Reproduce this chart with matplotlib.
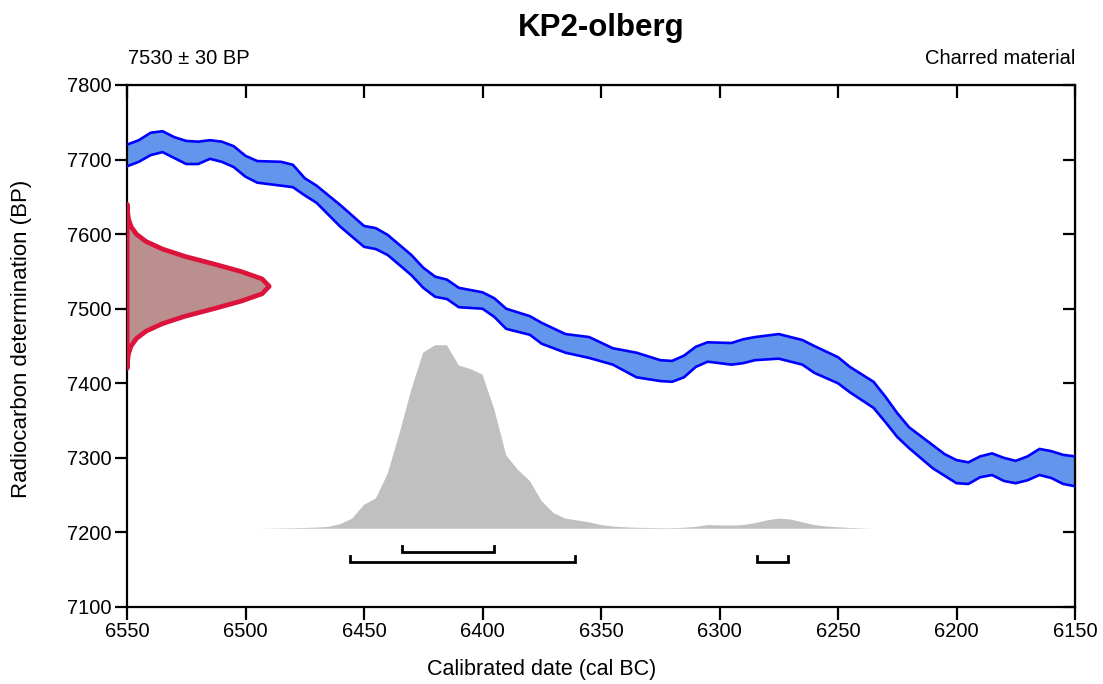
#
# radiocarbon calibration plot: KP2-olberg
#
import numpy as np
import matplotlib
matplotlib.use('Agg')
import matplotlib.pyplot as plt

plt.rcParams['font.family'] = ['Liberation Sans', 'DejaVu Sans']

TITLE = 'KP2-olberg'
DATE_LABEL = '7530 \u00b1 30 BP'
MATERIAL = 'Charred material'
X_LABEL = 'Calibrated date (cal BC)'
Y_LABEL = 'Radiocarbon determination (BP)'

# calibration curve, cal BC and 1 sigma band edges (BP)
cal_years = [6550, 6545, 6540, 6535, 6530, 6525, 6520, 6515, 6510, 6505,
             6500, 6495, 6485, 6480, 6475, 6470, 6460, 6450, 6445, 6440,
             6430, 6425, 6420, 6415, 6410, 6400, 6395, 6390, 6380, 6375,
             6365, 6355, 6345, 6335, 6325, 6320, 6315, 6310, 6305, 6295,
             6290, 6285, 6275, 6265, 6260, 6250, 6245, 6235, 6230, 6225,
             6220, 6210, 6205, 6200, 6195, 6190, 6185, 6180, 6175, 6170,
             6165, 6160, 6155, 6150]
cal_upper = [7720, 7726, 7736, 7738, 7730, 7725, 7724, 7726, 7724, 7718,
             7705, 7698, 7697, 7693, 7675, 7665, 7639, 7611, 7608, 7599,
             7572, 7555, 7543, 7539, 7528, 7522, 7514, 7500, 7490, 7481,
             7466, 7462, 7447, 7441, 7431, 7430, 7437, 7449, 7455, 7454,
             7459, 7462, 7466, 7458, 7450, 7435, 7422, 7402, 7382, 7360,
             7341, 7317, 7305, 7297, 7294, 7302, 7306, 7300, 7296, 7302,
             7312, 7309, 7304, 7302]
cal_lower = [7691, 7697, 7706, 7710, 7702, 7694, 7694, 7701, 7697, 7690,
             7677, 7669, 7665, 7663, 7652, 7642, 7610, 7583, 7580, 7572,
             7545, 7528, 7516, 7513, 7502, 7500, 7489, 7473, 7465, 7453,
             7441, 7434, 7425, 7408, 7403, 7402, 7408, 7422, 7429, 7425,
             7427, 7431, 7433, 7425, 7414, 7400, 7388, 7367, 7348, 7328,
             7313, 7286, 7276, 7266, 7265, 7274, 7277, 7269, 7266, 7270,
             7277, 7273, 7265, 7262]

# measured date (relative likelihood at BP values)
date_bp = [7420, 7430, 7440, 7450, 7460, 7470, 7480, 7490, 7500, 7510, 7520,
           7530, 7540, 7550, 7560, 7570, 7580, 7590, 7600, 7610, 7620, 7630, 7640]
date_prob = [0.001, 0.004, 0.011, 0.029, 0.066, 0.135, 0.25, 0.41, 0.61, 0.80, 0.95,
             1.0, 0.95, 0.80, 0.61, 0.41, 0.25, 0.135, 0.066, 0.029, 0.011, 0.004, 0.001]

# calibrated distribution (relative probability)
post_years = [6495, 6490, 6485, 6480, 6475, 6470, 6465, 6460, 6455, 6450,
              6445, 6440, 6435, 6430, 6425, 6420, 6415, 6410, 6405, 6400,
              6395, 6390, 6385, 6380, 6375, 6370, 6365, 6360, 6355, 6350,
              6345, 6340, 6335, 6330, 6325, 6320, 6315, 6310, 6305, 6300,
              6295, 6290, 6285, 6280, 6275, 6270, 6265, 6260, 6255, 6250,
              6245, 6240, 6235]
post_prob = [0.0, 0.001, 0.002, 0.003, 0.004, 0.006, 0.01, 0.025, 0.055, 0.13,
             0.165, 0.30, 0.52, 0.76, 0.96, 1.0, 1.0, 0.89, 0.87, 0.84,
             0.65, 0.40, 0.32, 0.26, 0.15, 0.085, 0.055, 0.045, 0.035, 0.02,
             0.012, 0.008, 0.005, 0.004, 0.003, 0.003, 0.005, 0.01, 0.02, 0.018,
             0.017, 0.02, 0.03, 0.045, 0.055, 0.05, 0.035, 0.02, 0.012, 0.008,
             0.004, 0.002, 0.0]

# highest density ranges
range_68 = [(6434, 6395)]
range_95 = [(6456, 6361), (6284, 6271)]

# plot settings
DATE_WIDTH = 60      # years used for the peak of the measured date
POST_BASE = 7205
POST_HEIGHT = 246
Y68 = 7174
Y95 = 7160
BRACKET_TICK = 8

fig = plt.figure(figsize=(11.03, 6.84), dpi=100)
ax = fig.add_axes([127 / 1103, 1 - 607 / 684, 948 / 1103, 522 / 684])

# calibrated distribution
post = np.array(post_prob)
ax.fill_between(post_years, POST_BASE, POST_BASE + POST_HEIGHT * post,
                facecolor='#c0c0c0', edgecolor='none', zorder=1)

# calibration curve
ax.fill_between(cal_years, cal_lower, cal_upper, facecolor='#6495ed',
                edgecolor='none', zorder=2)
ax.plot(cal_years, cal_upper, color='#0000ff', lw=1.9, zorder=3)
ax.plot(cal_years, cal_lower, color='#0000ff', lw=1.9, zorder=3)

# measured date on the y axis
dx = 6550 - DATE_WIDTH * np.array(date_prob)
ax.fill(dx, date_bp, facecolor='#bc8f8f', edgecolor='#dc143c', lw=3.4,
        joinstyle='round', zorder=4)

# range brackets
for ranges, yb in [(range_68, Y68), (range_95, Y95)]:
    for a, b in ranges:
        ax.plot([a, a, b, b], [yb + BRACKET_TICK, yb, yb, yb + BRACKET_TICK],
                color='black', lw=2, solid_joinstyle='miter', zorder=5)

ax.set_xlim(6550, 6150)
ax.set_ylim(7100, 7800)
xticks = np.arange(6550, 6149, -50)
yticks = np.arange(7100, 7801, 100)
ax.set_xticks(xticks)
ax.set_yticks(yticks)

for s in ax.spines.values():
    s.set_linewidth(1.6)
ax.tick_params(direction='out', length=9, width=1.6, pad=2, labelsize=14.5,
               top=False, right=False)

# inward ticks on the top and right side
sx = ax.secondary_xaxis('top')
sx.set_xticks(xticks)
sx.tick_params(direction='in', length=9, width=1.6, labeltop=False)
sy = ax.secondary_yaxis('right')
sy.set_yticks(yticks)
sy.tick_params(direction='in', length=9, width=1.6, labelright=False)

fig.text(601 / 1103, 1 - 28 / 684, TITLE, ha='center', va='center',
         fontsize=22.5, fontweight='bold')
fig.text(128 / 1103, 1 - 58 / 684, DATE_LABEL, ha='left', va='center', fontsize=14.5)
fig.text(1075 / 1103, 1 - 58 / 684, MATERIAL, ha='right', va='center', fontsize=14.5)
fig.text(542 / 1103, 1 - 670 / 684, X_LABEL, ha='center', va='center', fontsize=15.5)
fig.text(22 / 1103, 1 - 339 / 684, Y_LABEL, ha='center', va='center',
         rotation=90, fontsize=16)

fig.savefig('out.png', dpi=100)
plt.close()
